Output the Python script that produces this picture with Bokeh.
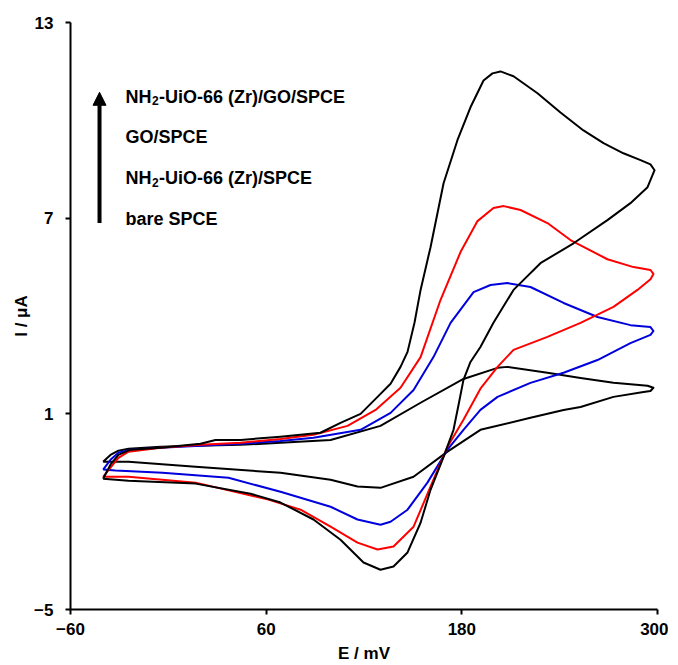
import math
from bokeh.plotting import figure
from bokeh.models import Range1d, FixedTicker, Label, Arrow, NormalHead
from bokeh.embed import file_html
from bokeh.resources import INLINE

# ---------------- data ----------------
x_ticks = [-60, 60, 180, 300]
y_ticks = [-5, 1, 7, 13]

# legend texts: (main part before subscript, subscript, rest)
legend_parts = [("NH", "2", "-UiO-66 (Zr)/GO/SPCE"),
                ("GO/SPCE", "", ""),
                ("NH", "2", "-UiO-66 (Zr)/SPCE"),
                ("bare SPCE", "", "")]

# bare SPCE (black, smallest loop)
bare_E = [-40, -35.5, -30.6, -24.4, -4.8, 16.7, 44.3, 68.8, 99.5, 130.1, 154.7, 181.0, 201.9, 208.0,
          232.5, 252.8, 273.0, 293.9, 297.5,
          295.7, 291.4, 273.0, 252.8, 242.4, 222.1, 191.4, 171.2, 150.4, 130.1, 116.0, 99.5, 68.8,
          16.7, -24.4, -40]
bare_I = [-0.47, -0.26, -0.13, -0.07, -0.01, 0.02, 0.05, 0.11, 0.20, 0.63, 1.34, 2.07, 2.41, 2.44,
          2.26, 2.10, 1.95, 1.86, 1.80,
          1.70, 1.67, 1.52, 1.21, 1.12, 0.88, 0.51, -0.16, -0.93, -1.27, -1.23, -1.02, -0.81,
          -0.62, -0.47, -0.47]

# NH2-UiO-66 (Zr)/SPCE (blue)
mof_E = [-40, -35.5, -30.6, -23.2, -4.8, 19.7, 44.3, 68.8, 89.0, 117.9, 136.3, 150.4, 162.6, 173.1,
         187.2, 197.6, 208.0, 222.1, 242.4, 263.2, 283.4, 295.7, 297.5,
         295.7, 283.4, 263.2, 242.4, 222.1, 201.9, 191.4, 181.0, 171.2, 158.9, 146.7, 136.3, 130.1,
         116.0, 99.5, 68.8, 36.9, -3.6, -32.4, -40]
mof_I = [-0.71, -0.41, -0.19, -0.10, -0.04, 0.02, 0.08, 0.17, 0.27, 0.51, 1.03, 1.73, 2.74, 3.79,
         4.73, 4.95, 5.01, 4.89, 4.40, 3.97, 3.72, 3.66, 3.54,
         3.42, 3.17, 2.65, 2.26, 1.95, 1.52, 1.12, 0.51, -0.10, -1.11, -1.94, -2.31, -2.40,
         -2.24, -1.85, -1.39, -0.96, -0.81, -0.74, -0.71]

# GO/SPCE (red)
go_E = [-40, -35.5, -30.6, -24.4, -4.8, 19.7, 44.3, 68.8, 89.0, 109.9, 127.1, 142.4, 154.7, 166.9,
        179.2, 189.6, 199.4, 205.6, 216.0, 232.5, 246.6, 269.3, 285.3, 295.7, 297.5,
        295.7, 287.7, 273.0, 252.8, 232.5, 211.7, 201.9, 191.4, 181.0, 171.2, 162.6, 150.4, 138.1,
        128.3, 116.0, 99.5, 81.1, 61.4, 16.7, -24.4, -40]
go_I = [-0.93, -0.65, -0.35, -0.16, -0.04, 0.05, 0.11, 0.23, 0.36, 0.63, 1.12, 1.80, 2.74, 4.49,
        5.96, 6.91, 7.31, 7.37, 7.25, 6.85, 6.33, 5.74, 5.50, 5.41, 5.29,
        5.13, 4.80, 4.28, 3.79, 3.36, 2.96, 2.44, 1.77, 0.82, -0.01, -1.02, -2.46, -3.07,
        -3.16, -2.95, -2.46, -1.94, -1.63, -1.11, -0.93, -0.93]

# NH2-UiO-66 (Zr)/GO/SPCE (black, largest loop)
comp_E = [-40, -35.5, -30.6, -23.2, -4.8, 19.7, 28.9, 44.3, 68.8, 93.3, 105.6, 117.9, 128.3, 136.3,
          142.4, 146.7, 151.0, 154.7, 160.8, 168.8, 177.3, 185.3, 193.3, 198.8, 203.7, 211.7,
          226.4, 240.5, 254.6, 266.9, 279.1, 289.6, 295.7, 298.2,
          293.9, 283.4, 269.3, 248.5, 228.2, 211.7, 199.4, 191.4, 185.3, 181.0, 178.0, 174.9,
          168.8, 160.8, 154.7, 146.7, 138.1, 130.1, 119.7, 105.6, 89.0, 68.8, 50.4, 16.7, -24.4, -40]
comp_I = [-0.99, -0.56, -0.26, -0.10, -0.04, 0.08, 0.20, 0.20, 0.30, 0.42, 0.72, 1.00, 1.52, 1.92,
          2.44, 2.90, 3.80, 4.80, 6.11, 8.07, 9.39, 10.40, 11.22, 11.44, 11.50, 11.35,
          10.83, 10.24, 9.69, 9.30, 8.99, 8.78, 8.65, 8.47,
          7.95, 7.46, 6.94, 6.23, 5.62, 4.80, 3.79, 3.05, 2.59, 2.04, 1.28, 0.51,
          -0.32, -1.33, -2.34, -3.25, -3.68, -3.78, -3.56, -2.86, -2.24, -1.72, -1.45, -1.14, -1.05, -0.99]

# ---------------- figure ----------------
FONT = "Liberation Sans"

p = figure(width=668, height=665, output_backend="svg", toolbar_location=None,
           x_range=Range1d(-60, 300), y_range=Range1d(-5, 13),
           min_border_left=70, min_border_right=11, min_border_top=22, min_border_bottom=55)
p.outline_line_color = None
p.xgrid.visible = False
p.ygrid.visible = False
p.background_fill_color = "white"
p.border_fill_color = "white"

for ax, ticks in ((p.xaxis, x_ticks), (p.yaxis, y_ticks)):
    ax.ticker = FixedTicker(ticks=ticks)
    ax.axis_line_width = 2
    ax.axis_line_color = "black"
    ax.major_tick_line_width = 2
    ax.major_tick_line_color = "black"
    ax.major_tick_out = 5
    ax.major_tick_in = 0
    ax.minor_tick_line_color = None
    ax.major_label_text_font = FONT
    ax.major_label_text_font_style = "bold"
    ax.major_label_text_font_size = "17px"
    ax.major_label_text_color = "black"
    ax.axis_label_text_font = FONT
    ax.axis_label_text_font_style = "bold"
    ax.axis_label_text_font_size = "17px"
    ax.axis_label_text_color = "black"
p.yaxis.major_label_standoff = 12
p.xaxis.major_label_standoff = 8
p.xaxis.axis_label = "E / mV"
p.yaxis.axis_label = "I / \u03bcA"
p.xaxis.axis_label_standoff = 6
p.yaxis.axis_label_standoff = 0

for E, I, col in ((bare_E, bare_I, "black"), (mof_E, mof_I, "#0000DD"),
                  (go_E, go_I, "#FF0000"), (comp_E, comp_I, "black")):
    p.line(E, I, line_color=col, line_width=2, line_join="round")

# legend-like annotations with arrow
legend_x = -26.3
legend_y = [10.73, 9.48, 8.22, 6.97]
for (main, sub, rest), yy in zip(legend_parts, legend_y):
    p.add_layout(Label(x=legend_x, y=yy, text=main, text_font=FONT, text_font_style="bold",
                       text_font_size="18px", text_baseline="middle", text_align="left",
                       text_color="black"))
    if sub:
        p.add_layout(Label(x=legend_x, y=yy, x_offset=26.5, y_offset=-4, text=sub, text_font=FONT,
                           text_font_style="bold", text_font_size="12px", text_baseline="middle",
                           text_align="left", text_color="black"))
        p.add_layout(Label(x=legend_x, y=yy, x_offset=33.5, text=rest, text_font=FONT,
                           text_font_style="bold", text_font_size="18px", text_baseline="middle",
                           text_align="left", text_color="black"))
p.add_layout(Arrow(end=NormalHead(size=13, fill_color="black", line_color="black"),
                   x_start=-42.2, y_start=6.85, x_end=-42.2, y_end=10.86,
                   line_width=4, line_color="black"))

open("out.html", "w").write(file_html(p, INLINE))
